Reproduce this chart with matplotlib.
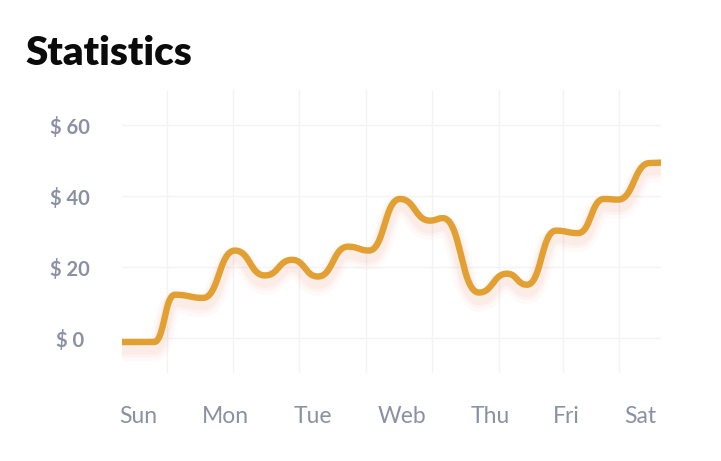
import numpy as np
import matplotlib
matplotlib.use("Agg")
import matplotlib.pyplot as plt
import matplotlib.transforms as mtransforms

# ---- data (x in horizontal chart units, y in dollars) ----
point_x = [0, 32, 53, 81, 113, 143, 170, 196, 226, 247, 278, 308, 321,
           357, 385, 405, 434, 456, 482, 496, 528, 539]
point_y = [-1.0, -1.0, 12.3, 11.4, 24.7, 17.7, 22.1, 17.4, 25.8, 24.7, 39.2,
           33.1, 33.8, 12.9, 18.2, 15.1, 30.3, 29.6, 39.2, 39.0, 49.3, 49.4]

day_labels = ["Sun", "Mon", "Tue", "Web", "Thu", "Fri", "Sat"]
day_pos = [16.3, 103.8, 190.6, 279.6, 368.7, 444.7, 518.0]
vgrid_pos = [44.7, 111.3, 177.3, 243.7, 309.7, 377.0, 440.7, 497.3]
y_ticks = [0, 20, 40, 60]
y_labels = ["$ 0", "$ 20", "$ 40", "$ 60"]

LINE = "#E2A032"
SHADOW = "#EE8A66"
LABEL = "#8B91A4"
GRID = "#F2F3F5"


def bump_curve(xs, ys, n=60):
    """Bezier segments with horizontal tangents at each point (bumpX)."""
    ox, oy = [xs[0]], [ys[0]]
    t = np.linspace(0, 1, n)[1:]
    for x0, y0, x1, y1 in zip(xs[:-1], ys[:-1], xs[1:], ys[1:]):
        xm = (x0 + x1) / 2
        a, b, c, d = (1 - t) ** 3, 3 * (1 - t) ** 2 * t, 3 * (1 - t) * t ** 2, t ** 3
        ox.extend(a * x0 + b * xm + c * xm + d * x1)
        oy.extend(a * y0 + b * y0 + c * y1 + d * y1)
    return np.array(ox), np.array(oy)


fig = plt.figure(figsize=(7.21, 4.61), dpi=100)
W, H = 721, 461
ax = fig.add_axes([122 / W, (H - 373) / H, 539 / W, 283 / H])

cx, cy = bump_curve(point_x, point_y)

# soft shadow
for lw, alpha, dy in [(16, 0.035, -6), (12, 0.05, -5), (9, 0.07, -4.5)]:
    tr = mtransforms.offset_copy(ax.transData, fig=fig, x=0, y=dy, units="points")
    ax.plot(cx, cy, color=SHADOW, lw=lw, alpha=alpha, transform=tr,
            solid_capstyle="butt", solid_joinstyle="round", zorder=2)

ax.plot(cx, cy, color=LINE, lw=4.6, solid_capstyle="butt",
        solid_joinstyle="round", zorder=3)

ax.set_xlim(0, 539)
ax.set_ylim(-9.7, 69.8)

for gx in vgrid_pos:
    ax.axvline(gx, color=GRID, lw=1.0, zorder=0)
for gy in y_ticks:
    ax.axhline(gy, color=GRID, lw=1.0, zorder=0)

for s in ax.spines.values():
    s.set_visible(False)

ax.set_xticks(day_pos)
ax.set_xticklabels(day_labels, fontsize=16.5, color=LABEL, family="Lato")
ax.tick_params(axis="x", length=0, pad=24)

# y labels: centred at a fixed pixel column left of the plot
ax.set_yticks([])
label_tr = mtransforms.blended_transform_factory(fig.transFigure, ax.transData)
label_tr = label_tr + mtransforms.ScaledTranslation(0, -2.5 / 100, fig.dpi_scale_trans)
for v, lab in zip(y_ticks, y_labels):
    ax.text(70 / W, v, lab, transform=label_tr,
            ha="center", va="center", fontsize=14.5, fontweight="bold",
            color=LABEL, family="Lato")

fig.text(25 / W, 1 - 65 / H, "Statistics", fontsize=29, fontweight="heavy",
         color="#0B0B0B", family="Lato", ha="left", va="baseline")

fig.savefig("out.png", dpi=100)
